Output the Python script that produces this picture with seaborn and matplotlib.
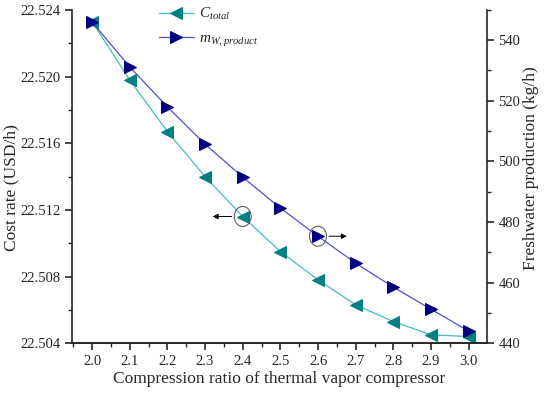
import numpy as np
import pandas as pd
import matplotlib
matplotlib.use('Agg')
import matplotlib.pyplot as plt
import seaborn as sns
from matplotlib.patches import Ellipse
from matplotlib.ticker import MultipleLocator, FormatStrFormatter

# data
ratio = [2.0, 2.1, 2.2, 2.3, 2.4, 2.5, 2.6, 2.7, 2.8, 2.9, 3.0]
c_total = [22.5233, 22.5198, 22.5167, 22.5140, 22.5116, 22.5095,
           22.5078, 22.5063, 22.5053, 22.5045, 22.5044]
m_product = [546.0, 531.2, 518.0, 505.7, 494.8, 484.6,
             475.3, 466.4, 458.5, 451.2, 444.0]

df = pd.DataFrame({'ratio': ratio, 'c_total': c_total, 'm_product': m_product})

sns.set_style('ticks')
plt.rcParams['font.family'] = ['Liberation Serif', 'DejaVu Serif']
plt.rcParams['mathtext.fontset'] = 'custom'
plt.rcParams['mathtext.it'] = 'Liberation Serif:italic'
plt.rcParams['mathtext.rm'] = 'Liberation Serif'

fig = plt.figure(figsize=(5.5, 3.94), dpi=100)
ax = fig.add_axes([0.131, 0.129, 0.754, 0.846])
ax2 = ax.twinx()

sns.lineplot(data=df, x='ratio', y='c_total', ax=ax, color='#40c0c0', lw=0.9,
             marker='<', markersize=9, markerfacecolor='#008080',
             markeredgecolor='#008080', label=r'$C_{total}$', legend=False)
sns.lineplot(data=df, x='ratio', y='m_product', ax=ax2, color='#5050d0', lw=0.9,
             marker='>', markersize=9, markerfacecolor='#000080',
             markeredgecolor='#000080', label=r'$m_{W,product}$', legend=False)

ax.set_xlim(1.947, 3.048)
ax.set_ylim(22.504, 22.524)
ax2.set_ylim(440, 550)

ax.xaxis.set_major_locator(MultipleLocator(0.1))
ax.xaxis.set_minor_locator(MultipleLocator(0.05))
ax.xaxis.set_major_formatter(FormatStrFormatter('%.1f'))
ax.yaxis.set_major_locator(MultipleLocator(0.004))
ax.yaxis.set_minor_locator(MultipleLocator(0.002))
ax.yaxis.set_major_formatter(FormatStrFormatter('%.3f'))
ax2.yaxis.set_major_locator(MultipleLocator(20))
ax2.yaxis.set_minor_locator(MultipleLocator(10))

for a in (ax, ax2):
    a.spines['top'].set_visible(False)
    for s in a.spines.values():
        s.set_linewidth(1.2)
    a.tick_params(which='major', length=5, width=1.2, labelsize=10.5, direction='out')
    a.tick_params(which='minor', length=3, width=1.0, direction='out')
ax2.spines['left'].set_visible(False)
ax.spines['right'].set_visible(False)

ax.set_xlabel('Compression ratio of thermal vapor compressor', fontsize=12.5, labelpad=2)
ax.set_ylabel('Cost rate (USD/h)', fontsize=12.5)
ax2.set_ylabel('Freshwater production (kg/h)', fontsize=12.5)
ax.yaxis.set_label_coords(-0.127, 0.468)
ax2.yaxis.set_label_coords(1.087, 0.526)

# legend
h1, l1 = ax.get_legend_handles_labels()
h2, l2 = ax2.get_legend_handles_labels()
ax.legend(h1 + h2, l1 + l2, loc='upper left', bbox_to_anchor=(0.176, 1.052),
          frameon=False, fontsize=11, handlelength=2.3, labelspacing=0.6,
          handletextpad=0.3)

# circles with arrows
ax.add_patch(Ellipse((2.4, c_total[4]), 0.045, 0.0012, fill=False,
                     ec='#606060', lw=0.8, zorder=5))
ax.annotate('', xy=(2.313, c_total[4]), xytext=(2.378, c_total[4]),
            arrowprops=dict(arrowstyle='-|>', color='black', lw=0.7,
                            mutation_scale=8))
ax2.add_patch(Ellipse((2.6, m_product[6]), 0.045, 6.6, fill=False,
                      ec='#606060', lw=0.8, zorder=5))
ax2.annotate('', xy=(2.684, m_product[6]), xytext=(2.622, m_product[6]),
             arrowprops=dict(arrowstyle='-|>', color='black', lw=0.7,
                             mutation_scale=8))

fig.savefig('out.png', dpi=100)
